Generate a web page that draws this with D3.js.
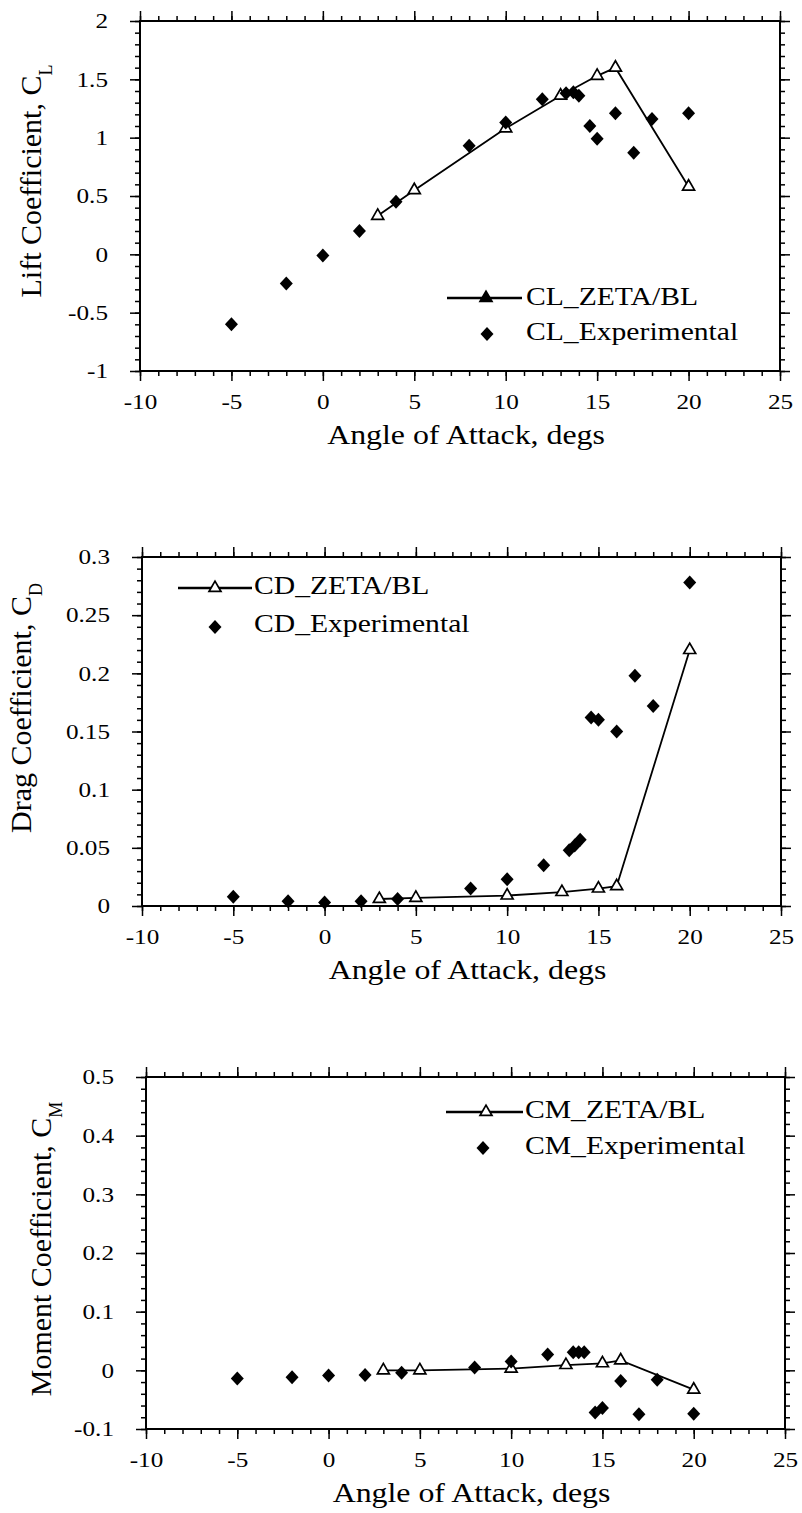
<!DOCTYPE html>
<html>
<head>
<meta charset="utf-8">
<script src="https://cdn.jsdelivr.net/npm/d3@7"></script>
<style>
  html, body { margin: 0; padding: 0; background: #fff; }
  svg { display: block; }
  text { font-family: "Liberation Serif", "Times New Roman", serif; fill: #000; }
</style>
</head>
<body>
<svg id="chart" width="802" height="1513"></svg>
<script>
// ---- data -------------------------------------------------------------
const angleTicks = [-10, -5, 0, 5, 10, 15, 20, 25];

// Lift coefficient
const clAngleModel = [3, 5, 10, 13, 15, 16, 20];
const clModel      = [0.33, 0.55, 1.08, 1.36, 1.53, 1.60, 0.58];
const clAngleExp   = [-5, -2, 0, 2, 4, 8, 10, 12, 13.3, 13.7, 14, 14.6, 15, 16, 17, 18, 20];
const clExp        = [-0.60, -0.25, -0.01, 0.20, 0.45, 0.93, 1.13, 1.33, 1.38, 1.39, 1.36, 1.10, 0.99, 1.21, 0.87, 1.16, 1.21];
const clTicks      = [-1, -0.5, 0, 0.5, 1, 1.5, 2];

// Drag coefficient
const cdAngleModel = [3, 5, 10, 13, 15, 16, 20];
const cdModel      = [0.006, 0.007, 0.009, 0.012, 0.015, 0.017, 0.22];
const cdAngleExp   = [-5, -2, 0, 2, 4, 8, 10, 12, 13.4, 13.7, 14, 14.6, 15, 16, 17, 18, 20];
const cdExp        = [0.008, 0.004, 0.003, 0.004, 0.006, 0.015, 0.023, 0.035, 0.048, 0.052, 0.057, 0.162, 0.160, 0.150, 0.198, 0.172, 0.278];
const cdTicks      = [0, 0.05, 0.1, 0.15, 0.2, 0.25, 0.3];

// Moment coefficient
const cmAngleModel = [3, 5, 10, 13, 15, 16, 20];
const cmModel      = [0.0, 0.0, 0.003, 0.009, 0.012, 0.017, -0.033];
const cmAngleExp   = [-5, -2, 0, 2, 4, 8, 10, 12, 13.4, 13.7, 14, 14.6, 15, 16, 17, 18, 20];
const cmExp        = [-0.014, -0.012, -0.009, -0.008, -0.004, 0.005, 0.015, 0.027, 0.031, 0.031, 0.031, -0.072, -0.064, -0.018, -0.075, -0.016, -0.074];
const cmTicks      = [-0.1, 0, 0.1, 0.2, 0.3, 0.4, 0.5];

// ---- layout -----------------------------------------------------------
const panels = [
  {
    box: { left: 140, right: 780, top: 21, bottom: 371 },
    yDomain: [-1, 2], yTicks: clTicks, yMinorStep: 0.1,
    title: "Lift Coefficient, C", sub: "L", titlePos: [41, 181],
    xm: clAngleModel, ym: clModel, xe: clAngleExp, ye: clExp,
    modelName: "CL_ZETA/BL", expName: "CL_Experimental",
    legend: { x0: 447, x1: 522, ly: 298, tri: 486, tx: 526, t1: 305, dx: 487, dy: 334, t2: 340, filled: true }
  },
  {
    box: { left: 142, right: 781, top: 557, bottom: 906 },
    yDomain: [0, 0.3], yTicks: cdTicks, yMinorStep: 0.01,
    title: "Drag Coefficient, C", sub: "D", titlePos: [31, 708],
    xm: cdAngleModel, ym: cdModel, xe: cdAngleExp, ye: cdExp,
    modelName: "CD_ZETA/BL", expName: "CD_Experimental",
    legend: { x0: 178, x1: 252, ly: 588, tri: 215, tx: 254, t1: 594, dx: 215, dy: 627, t2: 632, filled: false }
  },
  {
    box: { left: 146, right: 785, top: 1077, bottom: 1429 },
    yDomain: [-0.1, 0.5], yTicks: cmTicks, yMinorStep: 0.02,
    title: "Moment Coefficient, C", sub: "M", titlePos: [51, 1249],
    xm: cmAngleModel, ym: cmModel, xe: cmAngleExp, ye: cmExp,
    modelName: "CM_ZETA/BL", expName: "CM_Experimental",
    legend: { x0: 446, x1: 523, ly: 1112, tri: 486, tx: 525, t1: 1118, dx: 483, dy: 1148, t2: 1154, filled: false }
  }
];

const svg = d3.select("#chart");
const TICK_FS = 21, TICK_SX = 1.2;
const TEXT_SX = 1.14;
const MAJOR = 10, MINOR = 5;

const triangle = d3.symbol().type(d3.symbolTriangle).size(62);
const diamondPath = "M0,-7L6.5,0L0,7L-6.5,0Z";
const fmt = d => String(d);

// widen glyphs horizontally, keeping the anchor point
function widen(sel, s) {
  sel.each(function () {
    const t = d3.select(this);
    const x = +t.attr("x") || 0;
    t.attr("x", 0).attr("transform", `translate(${x},0) scale(${s},1)`);
  });
}

function styleAxis(g, labels) {
  g.attr("font-family", null).attr("font-size", null);
  g.select(".domain").remove();
  g.selectAll(".tick line").attr("stroke", "#000").attr("stroke-width", 1.5);
  if (labels) {
    g.selectAll(".tick text").attr("font-size", TICK_FS).attr("fill", "#000");
    widen(g.selectAll(".tick text"), TICK_SX);
  } else {
    g.selectAll(".tick text").remove();
  }
}

function minorValues(lo, hi, step) {
  const n = Math.round((hi - lo) / step);
  return d3.range(n + 1).map(i => +(lo + i * step).toFixed(6));
}

panels.forEach(p => {
  const b = p.box;
  const x = d3.scaleLinear().domain([-10, 25]).range([b.left, b.right]);
  const y = d3.scaleLinear().domain(p.yDomain).range([b.bottom, b.top]);
  const g = svg.append("g");

  const xMinor = minorValues(-10, 25, 1);
  const yMinor = minorValues(p.yDomain[0], p.yDomain[1], p.yMinorStep);

  // minor ticks on all four sides
  [[d3.axisBottom, b.bottom], [d3.axisTop, b.top]].forEach(([ax, pos]) => {
    g.append("g").attr("transform", `translate(0,${pos})`)
      .call(ax(x).tickValues(xMinor).tickSize(MINOR).tickSizeOuter(0))
      .call(a => styleAxis(a, false));
  });
  [[d3.axisLeft, b.left], [d3.axisRight, b.right]].forEach(([ax, pos]) => {
    g.append("g").attr("transform", `translate(${pos},0)`)
      .call(ax(y).tickValues(yMinor).tickSize(MINOR).tickSizeOuter(0))
      .call(a => styleAxis(a, false));
  });

  // major ticks; labels on bottom and left
  g.append("g").attr("transform", `translate(0,${b.bottom})`)
    .call(d3.axisBottom(x).tickValues(angleTicks).tickSize(MAJOR).tickPadding(13).tickFormat(fmt).tickSizeOuter(0))
    .call(a => styleAxis(a, true));
  g.append("g").attr("transform", `translate(0,${b.top})`)
    .call(d3.axisTop(x).tickValues(angleTicks).tickSize(MAJOR).tickSizeOuter(0))
    .call(a => styleAxis(a, false));
  g.append("g").attr("transform", `translate(${b.left},0)`)
    .call(d3.axisLeft(y).tickValues(p.yTicks).tickSize(MAJOR).tickPadding(22).tickFormat(fmt).tickSizeOuter(0))
    .call(a => styleAxis(a, true));
  g.append("g").attr("transform", `translate(${b.right},0)`)
    .call(d3.axisRight(y).tickValues(p.yTicks).tickSize(MAJOR).tickSizeOuter(0))
    .call(a => styleAxis(a, false));

  // frame
  g.append("rect")
    .attr("x", b.left).attr("y", b.top)
    .attr("width", b.right - b.left).attr("height", b.bottom - b.top)
    .attr("fill", "none").attr("stroke", "#000").attr("stroke-width", 2);

  // axis titles
  g.append("text")
    .attr("text-anchor", "middle")
    .attr("font-size", 27)
    .attr("transform", `translate(${(b.left + b.right) / 2 + 6},${b.bottom + 73}) scale(1.18,1)`)
    .text("Angle of Attack, degs");

  const yt = g.append("text")
    .attr("text-anchor", "middle")
    .attr("font-size", 30)
    .attr("transform", `translate(${p.titlePos[0]},${p.titlePos[1]}) rotate(-90)`);
  yt.append("tspan").text(p.title);
  yt.append("tspan").attr("font-size", 18).attr("dy", 11).text(p.sub);

  // computed series: line with open triangles
  const model = p.xm.map((a, i) => [a, p.ym[i]]);
  g.append("path")
    .datum(model)
    .attr("fill", "none").attr("stroke", "#000").attr("stroke-width", 1.8)
    .attr("d", d3.line().x(d => x(d[0])).y(d => y(d[1])));
  g.selectAll(".tri").data(model).join("path")
    .attr("class", "tri")
    .attr("d", triangle)
    .attr("transform", d => `translate(${x(d[0])},${y(d[1])})`)
    .attr("fill", "#fff").attr("stroke", "#000").attr("stroke-width", 1.7);

  // experimental series: filled diamonds
  const exp = p.xe.map((a, i) => [a, p.ye[i]]);
  g.selectAll(".dia").data(exp).join("path")
    .attr("class", "dia")
    .attr("d", diamondPath)
    .attr("transform", d => `translate(${x(d[0])},${y(d[1])})`)
    .attr("fill", "#000");

  // legend
  const L = p.legend;
  g.append("line")
    .attr("x1", L.x0).attr("x2", L.x1).attr("y1", L.ly).attr("y2", L.ly)
    .attr("stroke", "#000").attr("stroke-width", 2.5);
  g.append("path")
    .attr("d", triangle)
    .attr("transform", `translate(${L.tri},${L.ly})`)
    .attr("fill", L.filled ? "#000" : "#fff").attr("stroke", "#000").attr("stroke-width", 1.7);
  g.append("text").attr("font-size", 26)
    .attr("transform", `translate(${L.tx},${L.t1}) scale(${TEXT_SX},1)`)
    .text(p.modelName);
  g.append("path").attr("d", diamondPath)
    .attr("transform", `translate(${L.dx},${L.dy})`).attr("fill", "#000");
  g.append("text").attr("font-size", 26)
    .attr("transform", `translate(${L.tx},${L.t2}) scale(${TEXT_SX},1)`)
    .text(p.expName);
});
</script>
</body>
</html>
